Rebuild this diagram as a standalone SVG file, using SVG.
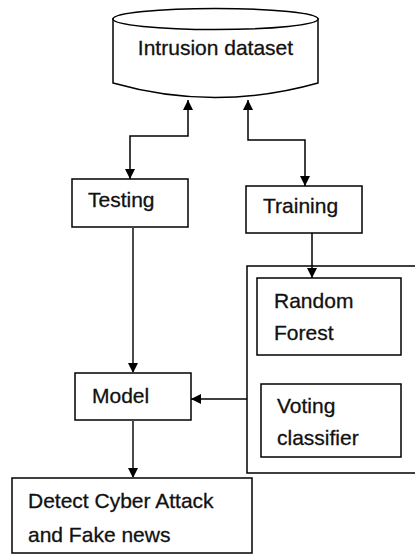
<svg xmlns="http://www.w3.org/2000/svg" width="416" height="554" viewBox="0 0 416 554">
<style>
.box{fill:#fff;stroke:#000;stroke-width:1.5}
.t{font-family:"Liberation Sans",Arial,sans-serif;font-size:21px;fill:#111;stroke:#111;stroke-width:0.3}
.c{fill:none;stroke:#000;stroke-width:1.5}
.g{fill:none;stroke:#4a4a4a;stroke-width:2}
</style>
<defs>
<marker id="ah" markerWidth="10" markerHeight="10" refX="10" refY="5" orient="auto" markerUnits="userSpaceOnUse">
<path d="M0,0 L10,5 L0,10 Z" fill="#000"/>
</marker>
<marker id="as" markerWidth="10" markerHeight="10" refX="0" refY="5" orient="auto" markerUnits="userSpaceOnUse">
<path d="M10,0 L0,5 L10,10 Z" fill="#000"/>
</marker>
</defs>
<rect width="416" height="554" fill="#fff"/>
<g id="dataset">
<path class="box" d="M113,18 L113,83 Q215,112 318,83 L318,18"/>
<ellipse cx="215.5" cy="19" rx="102.5" ry="10.5" class="box"/>
<text class="t" x="215.5" y="55" text-anchor="middle">Intrusion dataset</text>
</g>
<g id="testing">
<rect class="box" x="72" y="179" width="116" height="48"/>
<text class="t" x="88" y="207">Testing</text>
</g>
<g id="training">
<rect class="box" x="246" y="186" width="116" height="47"/>
<text class="t" x="263" y="213">Training</text>
</g>
<g id="classifiers">
<path class="box" d="M415,266 L247,266 L247,473 L415,473" fill="none"/>
</g>
<g id="randomforest">
<rect class="box" x="257" y="278" width="144" height="77"/>
<text class="t" x="274" y="308">Random</text>
<text class="t" x="274" y="340">Forest</text>
</g>
<g id="voting">
<rect class="box" x="261" y="384" width="140" height="73"/>
<text class="t" x="277" y="413">Voting</text>
<text class="t" x="277" y="445">classifier</text>
</g>
<g id="model">
<rect class="box" x="75" y="373" width="116" height="47"/>
<text class="t" x="92" y="403">Model</text>
</g>
<g id="detect">
<rect class="box" x="12" y="478" width="240" height="75"/>
<text class="t" x="28" y="508">Detect Cyber Attack</text>
<text class="t" x="28" y="542">and Fake news</text>
</g>
<g id="connectors">
<polyline class="c" points="188,100 188,136 130,136 130,179" marker-start="url(#as)" marker-end="url(#ah)"/>
<polyline class="c" points="248,100 248,140 305,140 305,186" marker-start="url(#as)" marker-end="url(#ah)"/>
<line class="c" x1="312" y1="233" x2="312" y2="278" marker-end="url(#ah)"/>
<line class="g" x1="133" y1="227" x2="133" y2="373" marker-end="url(#ah)"/>
<line class="c" x1="247" y1="399" x2="191" y2="399" marker-end="url(#ah)"/>
<line class="g" x1="133" y1="420" x2="133" y2="478" marker-end="url(#ah)"/>
</g>
</svg>
